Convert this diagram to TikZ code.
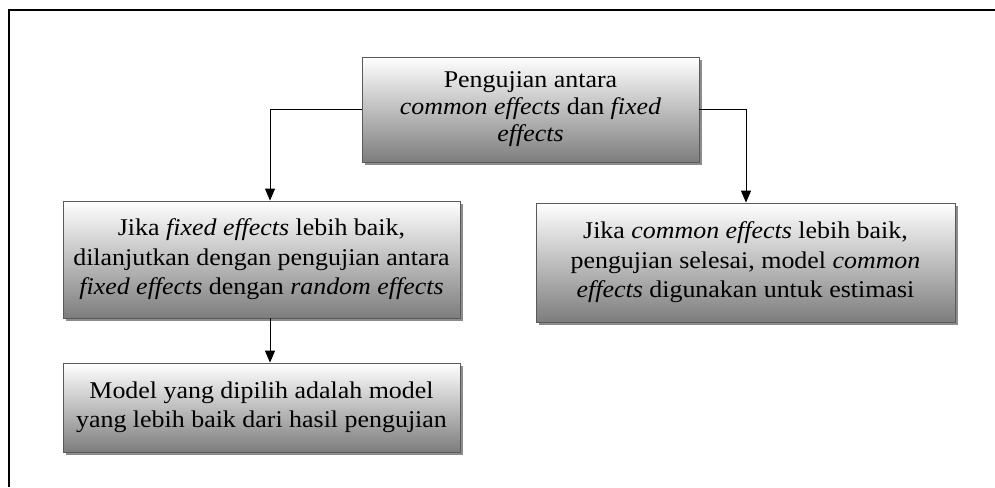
\documentclass[tikz,border=0pt]{standalone}
\usepackage{fontspec}
\setmainfont{Liberation Serif}[FakeStretch=1.08]
\usetikzlibrary{arrows.meta,shadows}
\begin{document}
\begin{tikzpicture}[x=1pt,y=-1pt,
  box/.style={draw={rgb,255:red,90;green,90;blue,90}, line width=0.8pt,
    top color=white, bottom color={rgb,255:red,125;green,125;blue,125},
    drop shadow={shadow xshift=3pt, shadow yshift=-3pt, fill=black, opacity=0.45},
    align=center, inner sep=0pt,
    font=\fontsize{24}{29.5}\selectfont},
  arr/.style={line width=1pt, -{Triangle[length=12pt,width=10pt]}},
  frame/.style={line width=1.8pt}]
\useasboundingbox (0,0) rectangle (995,487);
\draw[frame] (9,487) -- (9,10) -- (995,10);
\node[box, minimum width=337pt, minimum height=105pt,
  font=\fontsize{24}{27}\selectfont] (top) at (530.5,109.5)
  {Pengujian antara\\\textit{common effects} dan \textit{fixed}\\\textit{effects}};
\node[box, minimum width=397pt, minimum height=117pt] (lm) at (261.5,259.5)
  {Jika \textit{fixed effects} lebih baik,\\dilanjutkan dengan pengujian antara\\\textit{fixed effects} dengan \textit{random effects}};
\node[box, minimum width=419pt, minimum height=119pt] (rm) at (745.5,262.5)
  {Jika \textit{common effects} lebih baik,\\pengujian selesai, model \textit{common}\\\textit{effects} digunakan untuk estimasi};
\node[box, minimum width=397pt, minimum height=89pt] (bt) at (261.5,407.5)
  {Model yang dipilih adalah model\\yang lebih baik dari hasil pengujian};
\coordinate (cl) at (270,0);
\coordinate (cr) at (746,0);
\draw[arr] (top.west) -| (cl |- lm.north);
\draw[arr] (top.east) -| (cr |- rm.north);
\draw[arr] (cl |- lm.south) -- (cl |- bt.north);
\end{tikzpicture}
\end{document}
